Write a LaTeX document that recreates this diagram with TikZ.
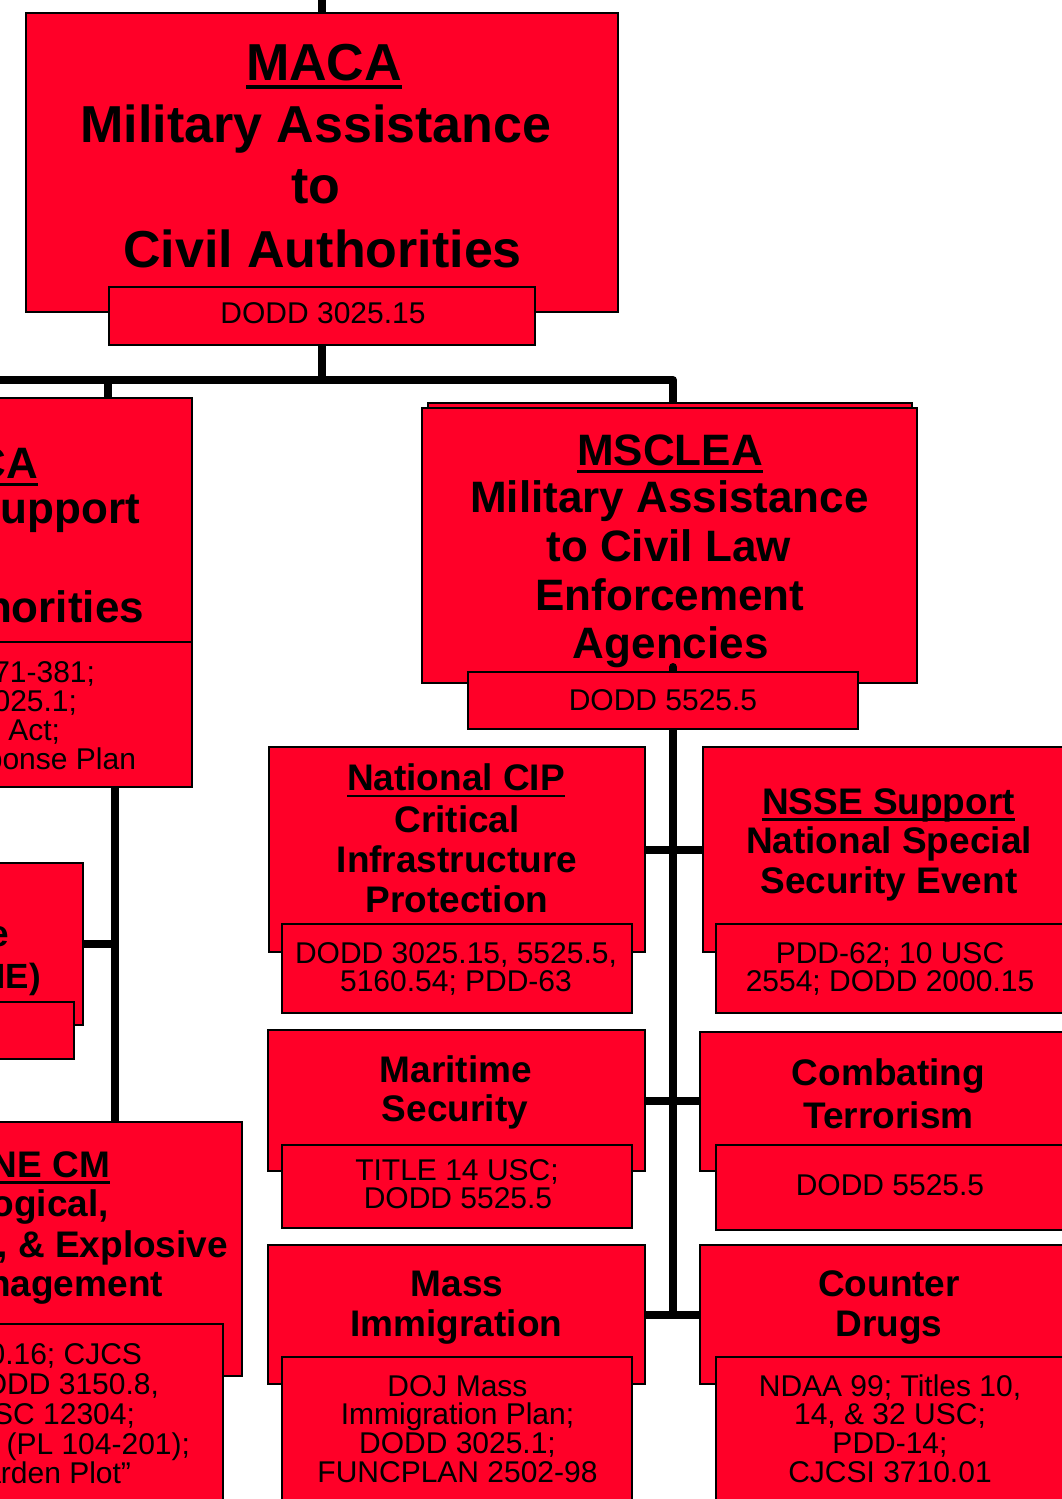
\documentclass[tikz,border=0pt]{standalone}
\usepackage{fontspec}
\setmainfont{Liberation Sans}
\pgfdeclarelayer{bg}
\pgfsetlayers{bg,main}
\definecolor{boxred}{RGB}{255,0,40}
\newcommand\mkbox[6][]{\node[box,#1,minimum width={(#5)-(#3)},minimum height={(#6)-(#4)}] (#2) at ({((#3)+(#5))/2},{((#4)+(#6))/2}) {};}
\begin{document}
\begin{tikzpicture}[x=1pt,y=-1pt,
  box/.style={draw=black,line width=2.6pt,fill=boxred,inner sep=0pt,outer sep=0pt,rectangle},
  conn/.style={draw=black,line width=8pt},
  ul/.style={draw=black,line width=3pt},
  tA/.style={inner sep=0pt,outer sep=0pt,anchor=base,font={\bfseries\fontsize{52}{62}\selectfont}},
  tB/.style={inner sep=0pt,outer sep=0pt,anchor=base,font={\bfseries\fontsize{44}{48}\selectfont}},
  tC/.style={inner sep=0pt,outer sep=0pt,anchor=base,font={\bfseries\fontsize{37}{40}\selectfont}},
  tD/.style={inner sep=0pt,outer sep=0pt,anchor=base,font={\fontsize{30}{29}\selectfont}}]
\useasboundingbox (0,0) rectangle (1062,1499);
\begin{pgfonlayer}{bg}
\fill[white] (0,0) rectangle (1062,1499);
\end{pgfonlayer}
\begin{scope}
\clip (0,0) rectangle (1062,1499);
% main boxes
\mkbox{maca}{26}{13}{618}{312}
\mkbox{msca}{-300}{398}{192}{642}
\mkbox{leftmid}{-200}{863}{83}{1025}
\mkbox{cbrne}{-300}{1122}{242}{1376}
\mkbox{mscleaback}{428}{403}{912}{500}
\mkbox{msclea}{422}{408}{917}{683}
\mkbox{cip}{269}{747}{645}{952}
\mkbox{nsse}{703}{747}{1075}{952}
\mkbox{mar}{268}{1030}{645}{1171}
\mkbox{comb}{700}{1032}{1075}{1171}
\mkbox{mass}{268}{1245}{645}{1384}
\mkbox{cd}{700}{1245}{1075}{1384}
% trunk below MSCLEA
\coordinate (vR) at (673,667);
\coordinate (vRend) at (673,1314.5);
\draw[conn,line cap=round] (vR) -- (vRend);
% sub boxes
\mkbox{macasub}{109}{287}{535}{345}
\mkbox{mscasub}{-300}{642}{192}{787}
\mkbox{leftmidsub}{-200}{1002}{74}{1059}
\mkbox{cbrnesub}{-300}{1324}{223}{1560}
\mkbox{mscleasub}{468}{672}{858}{729}
\mkbox{cipsub}{282}{924}{632}{1013}
\mkbox{nssesub}{716}{924}{1064}{1013}
\mkbox{marsub}{282}{1145}{632}{1228}
\mkbox{combsub}{716}{1145}{1064}{1230}
\mkbox{masssub}{282}{1357}{632}{1560}
\mkbox{cdsub}{716}{1357}{1064}{1560}
% MACA
\node[tA] (maca1) at (324,80) {MACA};
\node[tA] (maca2) at (316,142) {Military Assistance};
\node[tA] (maca3) at (316,203) {to};
\node[tA] (maca4) at (322.5,267) {Civil Authorities};
\node[tD] (macas1) at (323,323) {DODD 3025.15};
\draw[ul,line width=3.3pt] ([yshift=-7pt]maca1.base west) -- ([yshift=-7pt]maca1.base east);
% MSCLEA
\node[tB] (ms1) at (670,465) {MSCLEA};
\node[tB] (ms2) at (669.5,512) {Military Assistance};
\node[tB] (ms3) at (668.6,561) {to Civil Law};
\node[tB] (ms4) at (670,610) {Enforcement};
\node[tB] (ms5) at (670.8,658) {Agencies};
\node[tD] (mss1) at (663,710) {DODD 5525.5};
\draw[ul] ([yshift=-6pt]ms1.base west) -- ([yshift=-6pt]ms1.base east);
% National CIP
\node[tC] (cip1) at (456,790) {National CIP};
\node[tC] (cip2) at (457,832) {Critical};
\node[tC] (cip3) at (457,872) {Infrastructure};
\node[tC] (cip4) at (457,912) {Protection};
\node[tD] (cips1) at (456,963) {DODD 3025.15, 5525.5,};
\node[tD] (cips2) at (456,991) {5160.54; PDD-63};
\draw[ul,line width=2.8pt] ([yshift=-6pt]cip1.base west) -- ([yshift=-6pt]cip1.base east);
% NSSE
\node[tC] (ns1) at (888.5,814) {NSSE Support};
\node[tC] (ns2) at (889,853) {National Special};
\node[tC] (ns3) at (889,893) {Security Event};
\node[tD] (nss1) at (890,963) {PDD-62; 10 USC};
\node[tD] (nss2) at (890,991) {2554; DODD 2000.15};
\draw[ul,line width=2.8pt] ([yshift=-5.5pt]ns1.base west) -- ([yshift=-5.5pt]ns1.base east);
% Maritime
\node[tC] (mar1) at (456,1082) {Maritime};
\node[tC] (mar2) at (455,1121) {Security};
\node[tD] (mars1) at (457,1180) {TITLE 14 USC;};
\node[tD] (mars2) at (458,1208) {DODD 5525.5};
% Combating
\node[tC] (cb1) at (888.5,1085) {Combating};
\node[tC] (cb2) at (888.5,1128) {Terrorism};
\node[tD] (cbs1) at (890,1195) {DODD 5525.5};
% Mass Immigration
\node[tC] (mi1) at (457,1296) {Mass};
\node[tC] (mi2) at (456.5,1336) {Immigration};
\node[tD] (mis1) at (457.5,1396) {DOJ Mass};
\node[tD] (mis2) at (457.5,1424.5) {Immigration Plan;};
\node[tD] (mis3) at (457.5,1453) {DODD 3025.1;};
\node[tD] (mis4) at (457.5,1482) {FUNCPLAN 2502-98};
% Counter Drugs
\node[tC] (cd1) at (889,1296) {Counter};
\node[tC] (cd2) at (889,1336) {Drugs};
\node[tD] (cds1) at (890,1396) {NDAA 99; Titles 10,};
\node[tD] (cds2) at (890,1424.5) {14, \& 32 USC;};
\node[tD] (cds3) at (890,1453) {PDD-14;};
\node[tD] (cds4) at (890,1482) {CJCSI 3710.01};
% MSCA (left, cut)
\node[tB,anchor=base east] (mc1) at (38,478) {MSCA};
\node[tB,anchor=base east] (mc2) at (140,523) {Military Support};
\node[tB,anchor=base east] (mc3) at (144,622) {Civil Authorities};
\draw[ul] ([yshift=-6pt]mc1.base west) -- ([yshift=-6pt]mc1.base east);
\node[tD,anchor=base east] (mcs1) at (95,682) {71-381;};
\node[tD,anchor=base east] (mcs2) at (77,711) {025.1;};
\node[tD,anchor=base east] (mcs3) at (60,740) {Act;};
\node[tD,anchor=base east] (mcs4) at (136,769) {Response Plan};
% left middle (cut)
\node[tC,anchor=base east] (lm1) at (9,946) {e};
\node[tC,anchor=base east,font={\bfseries\fontsize{35}{40}\selectfont}] (lm2) at (41,988) {NE)};
% CBRNE CM (cut)
\node[tC,anchor=base east] (cb01) at (110,1177) {CBRNE CM};
\node[tC,anchor=base east] (cb02) at (109,1216) {Chemical, Biological,};
\node[tC,anchor=base east] (cb03) at (228,1257) {Radiological, Nuclear, \& Explosive};
\node[tC,anchor=base east] (cb04) at (163,1296) {Consequence Management};
\draw[ul,line width=2.8pt] ([yshift=-5.5pt]cb01.base west) -- ([yshift=-5.5pt]cb01.base east);
\node[tD,anchor=base east] (cbs01) at (142,1364) {0.16; CJCS};
\node[tD,anchor=base east] (cbs02) at (159,1394) {DODD 3150.8,};
\node[tD,anchor=base east] (cbs03) at (135,1424) {USC 12304;};
\node[tD,anchor=base east] (cbs04) at (190,1454) {(PL 104-201);};
\node[tD,anchor=base east] (cbs05) at (131,1483) {Garden Plot”};
\end{scope}
% connectors behind the boxes
\begin{pgfonlayer}{bg}
\coordinate (top) at (322,0);
\coordinate (barL) at (0,380);
\coordinate (barR) at (673,380);
\coordinate (dropL) at (108,380);
\coordinate (vL) at (115,700);
\draw[conn] (top) -- (maca.north);
\draw[conn] (macasub.south) -- (macasub.south |- barL);
\draw[conn,line join=round] (barL) -- (barR) -- (barR |- mscleaback.north);
\draw[conn] (dropL) -- (dropL |- msca.north);
\draw[conn] (mscasub.south -| vL) -- (cbrne.north -| vL);
\draw[conn] (leftmid.east) -- (leftmid.east -| vL);
\draw[conn] (cip.east) -- (nsse.west);
\draw[conn] (mar.east) -- (mar.east -| comb.west);
\draw[conn] (mass.east) -- (mass.east -| cd.west);
\end{pgfonlayer}
\end{tikzpicture}
\end{document}
